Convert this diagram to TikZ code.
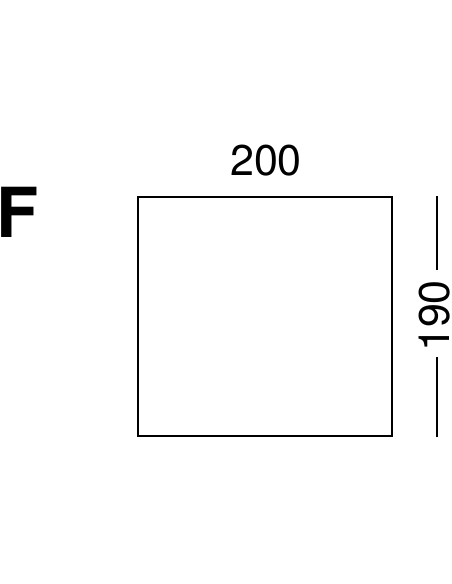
\documentclass[tikz,border=0pt]{standalone}
\usepackage{fontspec}
\setmainfont{TeX Gyre Heros}
\begin{document}
\begin{tikzpicture}[x=1pt,y=-1pt,line width=2.3pt]
\tikzstyle{every node}=[inner sep=0pt,font=\fontsize{43}{43}\selectfont]
\useasboundingbox (0,0) rectangle (452,584);

\draw (138,197) coordinate (tl) rectangle (392,436) coordinate (br);
\draw (266,175) node (w) [anchor=base] {200};
\draw (435,316) node (h) [rotate=90] {190};
\draw (-5,237) node (f) [anchor=base west,font=\fontsize{69}{69}\selectfont\bfseries] {F};
\coordinate (ht) at (437,196);
\coordinate (hb) at (437,437);
\draw [shorten >=9pt] (ht) -- (ht |- h.east);
\draw [shorten >=4pt] (hb) -- (hb |- h.west);
\end{tikzpicture}
\end{document}
